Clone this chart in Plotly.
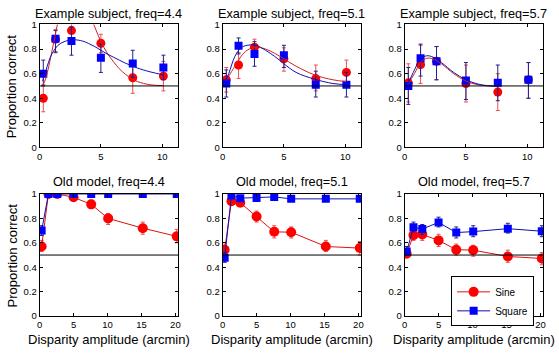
import plotly.graph_objects as go

W, H = 559, 355

# ---------------- data ----------------
x_top = [0.3, 1.3, 2.6, 5.0, 7.6, 10.1]
x_bot = [0.3, 1.3, 2.6, 5.0, 7.6, 10.1, 15.2, 20.2]

titles = ["Example subject, freq=4.4", "Example subject, freq=5.1", "Example subject, freq=5.7",
          "Old model, freq=4.4", "Old model, freq=5.1", "Old model, freq=5.7"]

# Example subject, freq=4.4
s44_sine = [0.40, 0.88, 0.95, 0.847, 0.567, 0.58]
s44_sine_lo = [0.29, 0.78, 0.88, 0.77, 0.44, 0.46]
s44_sine_hi = [0.51, 0.96, 1.05, 0.92, 0.68, 0.70]
s44_sq = [0.60, 0.884, 0.865, 0.73, 0.683, 0.65]
s44_sq_lo = [0.50, 0.77, 0.75, 0.61, 0.57, 0.55]
s44_sq_hi = [0.71, 0.95, 0.98, 0.84, 0.79, 0.75]
fit44_x = [0.25, 0.5, 0.75, 1.0, 1.25, 1.5, 2.0, 2.75, 3.5, 4.0, 4.5, 5.0, 5.5, 6.0, 6.5, 7.0, 7.5, 8.0, 9.0, 10.1]
fit44_sine = [0.50, 0.56, 0.66, 0.78, 0.90, 1.02, 1.18, 1.26, 1.2, 1.1, 0.98, 0.86, 0.77, 0.70, 0.64, 0.595, 0.56, 0.535, 0.51, 0.502]
fit44_sq = [0.54, 0.62, 0.70, 0.76, 0.80, 0.83, 0.86, 0.875, 0.865, 0.845, 0.82, 0.79, 0.76, 0.735, 0.71, 0.685, 0.665, 0.645, 0.615, 0.59]

# Example subject, freq=5.1
s51_sine = [0.55, 0.67, 0.815, 0.72, 0.56, 0.61]
s51_sine_lo = [0.45, 0.56, 0.74, 0.62, 0.46, 0.51]
s51_sine_hi = [0.65, 0.77, 0.88, 0.81, 0.67, 0.71]
s51_sq = [0.52, 0.826, 0.76, 0.75, 0.51, 0.51]
s51_sq_lo = [0.41, 0.76, 0.66, 0.65, 0.41, 0.41]
s51_sq_hi = [0.63, 0.89, 0.86, 0.83, 0.62, 0.61]
fit51_x = [0.25, 0.5, 1.0, 1.5, 2.0, 2.7, 3.5, 4.25, 5.0, 6.0, 7.5, 9.0, 10.1]
fit51_sine = [0.54, 0.58, 0.66, 0.74, 0.79, 0.815, 0.80, 0.765, 0.72, 0.66, 0.59, 0.55, 0.535]
fit51_sq = [0.54, 0.60, 0.74, 0.81, 0.83, 0.83, 0.79, 0.74, 0.68, 0.61, 0.555, 0.52, 0.51]

# Example subject, freq=5.7
s57_sine = [0.525, 0.673, 0.70, 0.52, 0.45, 0.55]
s57_sine_lo = [0.37, 0.52, 0.55, 0.37, 0.30, 0.40]
s57_sine_hi = [0.68, 0.83, 0.82, 0.67, 0.60, 0.69]
s57_sq = [0.50, 0.725, 0.70, 0.545, 0.525, 0.55]
s57_sq_lo = [0.35, 0.58, 0.55, 0.39, 0.38, 0.40]
s57_sq_hi = [0.65, 0.84, 0.82, 0.69, 0.67, 0.69]
fit57_x = [0.25, 0.8, 1.3, 1.8, 2.3, 3.0, 4.0, 5.0, 6.0, 7.0, 7.6]
fit57_sine = [0.51, 0.60, 0.69, 0.725, 0.72, 0.68, 0.60, 0.54, 0.51, 0.50, 0.50]
fit57_sq = [0.51, 0.63, 0.72, 0.745, 0.735, 0.69, 0.61, 0.55, 0.515, 0.50, 0.50]

# Old model, freq=4.4
m44_sine = [0.57, 1.0, 1.0, 0.973, 0.915, 0.80, 0.72, 0.653]
m44_sine_lo = [0.53, 0.99, 0.99, 0.95, 0.88, 0.75, 0.67, 0.60]
m44_sine_hi = [0.62, 1.0, 1.0, 0.99, 0.95, 0.84, 0.77, 0.71]
m44_sq = [0.70, 1.0, 1.0, 1.0, 1.0, 1.0, 1.0, 1.0]
m44_sq_lo = [0.66, 1.0, 1.0, 1.0, 1.0, 1.0, 1.0, 1.0]
m44_sq_hi = [0.74, 1.0, 1.0, 1.0, 1.0, 1.0, 1.0, 1.0]

# Old model, freq=5.1
m51_sine = [0.544, 0.94, 0.928, 0.815, 0.69, 0.687, 0.57, 0.557]
m51_sine_lo = [0.50, 0.91, 0.90, 0.77, 0.64, 0.64, 0.53, 0.50]
m51_sine_hi = [0.59, 0.97, 0.96, 0.86, 0.74, 0.73, 0.62, 0.61]
m51_sq = [0.477, 0.987, 0.966, 0.968, 0.976, 0.96, 0.96, 0.96]
m51_sq_lo = [0.44, 0.98, 0.95, 0.95, 0.96, 0.945, 0.945, 0.945]
m51_sq_hi = [0.52, 0.995, 0.98, 0.98, 0.99, 0.975, 0.975, 0.975]

# Old model, freq=5.7
m57_sine = [0.51, 0.663, 0.668, 0.62, 0.544, 0.54, 0.488, 0.472]
m57_sine_lo = [0.48, 0.62, 0.62, 0.57, 0.50, 0.49, 0.44, 0.42]
m57_sine_hi = [0.55, 0.70, 0.71, 0.67, 0.59, 0.58, 0.54, 0.52]
m57_sq = [0.53, 0.727, 0.713, 0.767, 0.684, 0.692, 0.716, 0.695]
m57_sq_lo = [0.50, 0.69, 0.67, 0.73, 0.64, 0.65, 0.68, 0.65]
m57_sq_hi = [0.57, 0.77, 0.75, 0.81, 0.73, 0.74, 0.76, 0.74]

yticks = [0, 0.2, 0.4, 0.6, 0.8, 1]
ytick_text = ["0", "0.2", "0.4", "0.6", "0.8", "1"]
xticks_top = [0, 5, 10]
xticks_bot = [0, 5, 10, 15, 20]

# ---------------- style ----------------
RED = "#ff0000"
RED_LINE = "#e01010"
RED_ERR = "#e85050"
BLUE = "#0000ff"
BLUE_LINE = "#1010b0"
BLUE_ERR = "#202090"
FONT = "Liberation Sans, Arial, sans-serif"

def px_x(p):
    return p / W

def px_y(p):
    return 1 - p / H

col_px = [(37, 177), (222, 362), (406, 546)]
row_px = [(19, 146), (194, 320)]

fig = go.Figure()

def err(vals, lo, hi, color):
    return dict(type="data", symmetric=False,
                array=[h - v for v, h in zip(vals, hi)],
                arrayminus=[v - l for v, l in zip(vals, lo)],
                color=color, thickness=1, width=2)

top_sets = [
    (s44_sine, s44_sine_lo, s44_sine_hi, s44_sq, s44_sq_lo, s44_sq_hi, fit44_x, fit44_sine, fit44_sq),
    (s51_sine, s51_sine_lo, s51_sine_hi, s51_sq, s51_sq_lo, s51_sq_hi, fit51_x, fit51_sine, fit51_sq),
    (s57_sine, s57_sine_lo, s57_sine_hi, s57_sq, s57_sq_lo, s57_sq_hi, fit57_x, fit57_sine, fit57_sq),
]
bot_sets = [
    (m44_sine, m44_sine_lo, m44_sine_hi, m44_sq, m44_sq_lo, m44_sq_hi),
    (m51_sine, m51_sine_lo, m51_sine_hi, m51_sq, m51_sq_lo, m51_sq_hi),
    (m57_sine, m57_sine_lo, m57_sine_hi, m57_sq, m57_sq_lo, m57_sq_hi),
]

for i, (ys, ysl, ysh, yq, yql, yqh, fx, fs, fq) in enumerate(top_sets):
    n = i + 1
    xa, ya = ("x" if n == 1 else f"x{n}"), ("y" if n == 1 else f"y{n}")
    fig.add_trace(go.Scatter(x=x_top, y=ys, mode="markers", xaxis=xa, yaxis=ya, showlegend=False,
                             marker=dict(symbol="circle", size=9, color=RED, line=dict(width=0)),
                             error_y=err(ys, ysl, ysh, RED_ERR), cliponaxis=True))
    fig.add_trace(go.Scatter(x=x_top, y=yq, mode="markers", xaxis=xa, yaxis=ya, showlegend=False,
                             marker=dict(symbol="square", size=8, color=BLUE, line=dict(width=0)),
                             error_y=err(yq, yql, yqh, BLUE_ERR), cliponaxis=True))
    fig.add_trace(go.Scatter(x=fx, y=fs, mode="lines", xaxis=xa, yaxis=ya, showlegend=False,
                             line=dict(color="#d02020", width=1, shape="spline")))
    fig.add_trace(go.Scatter(x=fx, y=fq, mode="lines", xaxis=xa, yaxis=ya, showlegend=False,
                             line=dict(color=BLUE_LINE, width=1, shape="spline")))

for i, (ys, ysl, ysh, yq, yql, yqh) in enumerate(bot_sets):
    n = i + 4
    xa, ya = f"x{n}", f"y{n}"
    fig.add_trace(go.Scatter(x=x_bot, y=ys, mode="lines+markers", xaxis=xa, yaxis=ya,
                             name="Sine", showlegend=(i == 0), legendrank=1,
                             line=dict(color=RED_LINE, width=1),
                             marker=dict(symbol="circle", size=10, color=RED, line=dict(width=0)),
                             error_y=err(ys, ysl, ysh, RED_ERR)))
    fig.add_trace(go.Scatter(x=x_bot, y=yq, mode="lines+markers", xaxis=xa, yaxis=ya,
                             name="Square", showlegend=(i == 0), legendrank=2,
                             line=dict(color=BLUE_LINE, width=1),
                             marker=dict(symbol="square", size=8, color=BLUE, line=dict(width=0)),
                             error_y=err(yq, yql, yqh, BLUE_ERR)))

layout = dict(width=W, height=H, margin=dict(l=0, r=0, t=0, b=0),
              paper_bgcolor="white", plot_bgcolor="white",
              font=dict(family=FONT, size=10, color="black"))

annotations = []
shapes = []
for n in range(1, 7):
    r = 0 if n <= 3 else 1
    c = (n - 1) % 3
    x0, x1 = col_px[c]
    y0, y1 = row_px[r]
    key = "" if n == 1 else str(n)
    layout["xaxis" + key] = dict(
        domain=[px_x(x0), px_x(x1)], anchor="y" + key,
        range=[0, 11.3] if r == 0 else [0, 20.4],
        tickvals=xticks_top if r == 0 else xticks_bot,
        showline=True, linecolor="black", linewidth=1, mirror="ticks",
        ticks="inside", ticklen=3, tickcolor="black", showgrid=False, zeroline=False,
        tickfont=dict(size=9.5, family=FONT))
    layout["yaxis" + key] = dict(
        domain=[px_y(y1), px_y(y0)], anchor="x" + key, range=[0, 1],
        tickvals=yticks, ticktext=ytick_text,
        showline=True, linecolor="black", linewidth=1, mirror="ticks",
        ticks="inside", ticklen=3, tickcolor="black", showgrid=False, zeroline=False,
        tickfont=dict(size=9.5, family=FONT))
    shapes.append(dict(type="line", xref=f"x{key} domain", yref=f"y{key}",
                       x0=0, x1=1, y0=0.5, y1=0.5, line=dict(color="black", width=1)))
    annotations.append(dict(text=titles[n - 1], x=px_x((x0 + x1) / 2), y=px_y(8 if r == 0 else 182),
                            xref="paper", yref="paper", showarrow=False,
                            font=dict(size=12.7, family=FONT), xanchor="center", yanchor="middle"))
    if c == 0:
        annotations.append(dict(text="Proportion correct", x=px_x(9.5), y=px_y((y0 + y1) / 2),
                                xref="paper", yref="paper", showarrow=False, textangle=-90,
                                font=dict(size=13, family=FONT), xanchor="center", yanchor="middle"))
    if r == 1:
        annotations.append(dict(text="Disparity amplitude (arcmin)", x=px_x((x0 + x1) / 2), y=px_y(344),
                                xref="paper", yref="paper", showarrow=False,
                                font=dict(size=13, family=FONT), xanchor="center", yanchor="middle"))

layout["annotations"] = annotations
layout["shapes"] = shapes
layout["legend"] = dict(x=px_x(453), y=px_y(279), xanchor="left", yanchor="top",
                        bgcolor="white", bordercolor="black", borderwidth=1,
                        font=dict(size=10, family=FONT), itemwidth=33,
                        tracegroupgap=0, traceorder="normal")
fig.update_layout(**layout)

fig.write_html("out.html", config={"displayModeBar": False},
               post_script="document.body.style.margin='0px';document.body.style.padding='0px';")
